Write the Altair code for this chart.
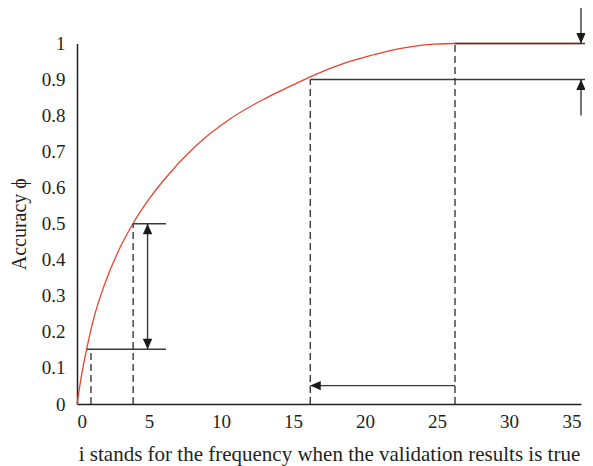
import altair as alt
import pandas as pd

# Curve values
curve_x = [0, 0.3, 0.67, 1.2, 1.9, 2.8, 3.88, 5.0, 6.0, 8.3, 10.6, 12.9, 14.1, 15.3, 16.2, 17.2, 18.2, 19.2, 20.3, 21.4, 22.4, 23.5, 24.8, 26.25, 30, 35]
curve_y = [0, 0.076, 0.152, 0.243, 0.33, 0.418, 0.5, 0.568, 0.62, 0.718, 0.79, 0.844, 0.868, 0.891, 0.9075, 0.925, 0.940, 0.953, 0.966, 0.977, 0.986, 0.993, 0.998, 1.0, 1.0, 1.0]

# Solid guide segments (x, x2, y, y2)
solid_x = [0.67, 3.9, 16.2, 26.25, 4.9, 26.25, 35, 35]
solid_x2 = [6.18, 6.18, 35.8, 35.8, 4.9, 16.2, 35, 35]
solid_y = [0.152, 0.5, 0.9, 1.0, 0.152, 0.051, 1.1, 0.80]
solid_y2 = [0.152, 0.5, 0.9, 1.0, 0.5, 0.051, 1.0, 0.9]

# Dashed drop lines
dash_x = [0.97, 3.9, 16.2, 26.25]
dash_y = [0.152, 0.5, 0.9, 1.0]

# Arrow heads
up_x = [4.9, 35]
up_y = [0.5, 0.9]
down_x = [4.9, 35]
down_y = [0.152, 1.0]
left_x = [16.2]
left_y = [0.051]

x_ticks = [0, 5, 10, 15, 20, 25, 30, 35]
y_ticks = [0, 0.1, 0.2, 0.3, 0.4, 0.5, 0.6, 0.7, 0.8, 0.9, 1]

FONT = "Liberation Serif"
INK = "#231f20"
LINE = "#3a3a3a"

curve_df = pd.DataFrame({"x": curve_x, "y": curve_y})
solid_df = pd.DataFrame({"x": solid_x, "x2": solid_x2, "y": solid_y, "y2": solid_y2})
dash_df = pd.DataFrame({"x": dash_x, "y": [0] * len(dash_x), "y2": dash_y})
up_df = pd.DataFrame({"x": up_x, "y": up_y})
down_df = pd.DataFrame({"x": down_x, "y": down_y})
left_df = pd.DataFrame({"x": left_x, "y": left_y})

xs = alt.Scale(domain=[0, 35], nice=False, zero=False)
ys = alt.Scale(domain=[0, 1], nice=False, zero=False)

x_axis = alt.Axis(values=x_ticks, labelPadding=8, labelFontSize=19, labelFont=FONT,
                  title="i stands for the frequency when the validation results is true",
                  titleFontSize=21, titlePadding=12)
y_axis = alt.Axis(values=y_ticks, labelPadding=12, format="~g", labelFontSize=19, labelFont=FONT,
                  title="Accuracy ϕ", titleFontSize=20, titlePadding=12)

X = alt.X("x:Q", scale=xs, axis=x_axis)
Y = alt.Y("y:Q", scale=ys, axis=y_axis)

curve = alt.Chart(curve_df).mark_line(color="#e8432d", strokeWidth=1.3, interpolate="monotone", clip=False).encode(
    x=X, y=Y,
)

solid = alt.Chart(solid_df).mark_rule(color=LINE, strokeWidth=1.4, clip=False).encode(
    x=X, x2="x2:Q", y=Y, y2="y2:Q"
)

dashed = alt.Chart(dash_df).mark_rule(color=LINE, strokeWidth=1.4, strokeDash=[7, 4], clip=False).encode(
    x=X, y=Y, y2="y2:Q"
)

def heads(df, path):
    return alt.Chart(df).mark_point(shape=path, filled=True, color="#1a1a1a", opacity=1, size=110,
                                    strokeWidth=0, clip=False).encode(x=X, y=Y)

up = heads(up_df, "M0,0L-0.9,2L0.9,2Z")
down = heads(down_df, "M0,0L-0.9,-2L0.9,-2Z")
left = heads(left_df, "M0,0L2,-0.9L2,0.9Z")

chart = alt.layer(curve, solid, dashed, up, down, left).properties(
    width=504, height=360.5,
    padding={"left": 69, "top": 35.5, "right": 4, "bottom": 62},
    autosize=alt.AutoSizeParams(type="none"),
).configure_view(stroke=None).configure_axis(
    ticks=False, grid=False, domainColor=INK, domainWidth=1.5,
    labelFont=FONT, labelFontSize=19, labelColor=INK, labelOverlap=False,
    titleFont=FONT, titleFontWeight="normal", titleColor=INK,
)

chart.save("out.html", embed_options={"renderer": "svg", "actions": False})
